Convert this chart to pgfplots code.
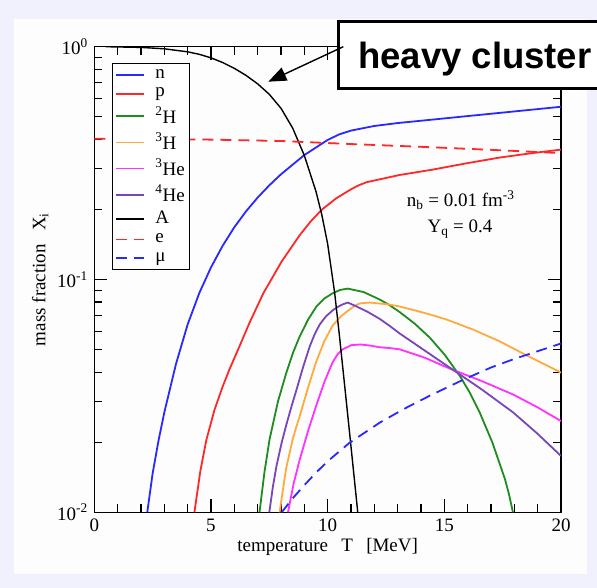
\documentclass[border=0pt]{standalone}
\usepackage{fontspec}
\setmainfont{Liberation Serif}
\newfontfamily\headfont{Liberation Sans}
\usepackage{pgfplots}
\pgfplotsset{compat=1.18}
\usetikzlibrary{arrows.meta}
\definecolor{colneutron}{RGB}{40,40,255}
\definecolor{colproton}{RGB}{255,40,40}
\definecolor{coldeut}{RGB}{30,140,30}
\definecolor{coltrit}{RGB}{255,170,60}
\definecolor{colhethree}{RGB}{255,50,255}
\definecolor{colalpha}{RGB}{120,70,185}
\definecolor{bgout}{RGB}{240,241,252}
\definecolor{bgin}{RGB}{253,253,253}
\begin{document}
\fontsize{19bp}{22bp}\selectfont
\begin{tikzpicture}
\path[use as bounding box] (0,0) rectangle (597bp,588bp);
\fill[bgout] (0,0) rectangle (597bp,588bp);
\fill[bgin] (14bp,14bp) rectangle (587bp,569bp);
\begin{axis}[
  at={(94.3bp,75.7bp)}, anchor=south west,
  width=466.7bp, height=465.6bp, scale only axis,
  xmin=0, xmax=20, ymode=log, ymin=0.01, ymax=1,
  xtick={0,5,10,15,20}, minor x tick num=4,
  ytick={0.01,0.1,1},
  yticklabels={10\textsuperscript{-2},10\textsuperscript{-1},10\textsuperscript{0}},
  minor ytick={0.02,0.03,0.04,0.05,0.06,0.07,0.08,0.09,0.2,0.3,0.4,0.5,0.6,0.7,0.8,0.9},
  /pgf/number format/assume math mode=true,
  major tick length=13bp, minor tick length=8bp,
  tick style={black,line width=1.2bp},
  axis line style={line width=1.4bp},
  tick label style={font=\fontsize{19bp}{22bp}\selectfont},
  label style={font=\fontsize{19bp}{22bp}\selectfont},
  xlabel={temperature\hspace{0.7em}T\hspace{0.7em}[MeV]},
  ylabel={mass fraction\hspace{0.7em}X\textsubscript{i}},
  every axis x label/.style={at={(axis description cs:0.5,-0.075)},anchor=center},
  every axis y label/.style={at={(axis description cs:-0.116,0.5)},anchor=center,rotate=90},
  legend style={at={(axis description cs:0.038,0.965)}, anchor=north west,
    draw=black, line width=1.2bp, fill=white,
    font=\fontsize{19bp}{22bp}\selectfont,
    inner xsep=2bp, inner ysep=2bp, row sep=0bp, column sep=8bp,
    nodes={inner xsep=3bp, inner ysep=3.5bp}},
  legend cell align=left,
  legend image code/.code={\draw[#1,line width=1.8bp] (0bp,0bp) -- (28bp,0bp);},
  every axis plot/.append style={line width=1.8bp, line join=round},
]
\addplot[color=colneutron] coordinates {
(2.27,0.0100)(2.50,0.01469)(2.75,0.02028)(3.00,0.02685)(3.50,0.04335)(4.00,0.06412)(4.50,0.08750)(5.00,0.1127)(5.50,0.1396)(6.00,0.1677)(6.50,0.1961)(7.00,0.2249)(7.50,0.2538)(8.00,0.2831)(9.00,0.3424)(10.00,0.3977)(10.50,0.4203)(11.00,0.4361)(12.00,0.4566)(13.00,0.4699)(14.50,0.4864)(16.00,0.5035)(18.00,0.5272)(20.00,0.5521)};
\addlegendentry{n}
\addplot[color=colproton] coordinates {
(4.29,0.0100)(4.545,0.01503)(4.80,0.02042)(5.15,0.02754)(5.50,0.03467)(5.79,0.04107)(6.08,0.04786)(6.66,0.06546)(7.24,0.08710)(8.02,0.1191)(8.80,0.1549)(9.275,0.1778)(9.75,0.1995)(10.355,0.2228)(10.96,0.2427)(11.315,0.2535)(11.67,0.2618)(13.085,0.2812)(14.50,0.2965)(15.94,0.3155)(17.38,0.3342)(18.69,0.3483)(20.00,0.3614)};
\addlegendentry{p}
\addplot[color=coldeut] coordinates {
(7.08,0.0100)(7.295,0.01496)(7.51,0.02056)(7.87,0.02992)(8.23,0.03981)(8.515,0.04845)(8.80,0.05689)(9.16,0.06724)(9.52,0.07656)(9.86,0.08287)(10.20,0.08710)(10.53,0.09016)(10.86,0.09141)(11.545,0.08831)(12.23,0.08204)(12.66,0.07753)(13.09,0.07244)(13.735,0.06457)(14.38,0.05623)(15.025,0.04738)(15.67,0.03846)(16.095,0.03261)(16.52,0.02679)(17.06,0.01994)(17.60,0.01387)(17.77,0.01197)(17.94,0.0100)};
\addlegendentry{\textsuperscript{2}H}
\addplot[color=coltrit] coordinates {
(7.94,0.0100)(8.22,0.01542)(8.50,0.02056)(8.65,0.02317)(8.80,0.02582)(9.15,0.03407)(9.50,0.04406)(9.85,0.05412)(10.20,0.06310)(10.57,0.06957)(10.94,0.07430)(11.155,0.07698)(11.37,0.07889)(11.80,0.07964)(12.23,0.07889)(12.66,0.07803)(13.09,0.07656)(13.735,0.07371)(14.38,0.07079)(15.10,0.06730)(16.24,0.06091)(17.38,0.05420)(18.53,0.04721)(19.265,0.04335)(20.00,0.03981)};
\addlegendentry{\textsuperscript{3}H}
\addplot[color=colhethree] coordinates {
(8.30,0.0100)(8.55,0.01340)(8.80,0.01679)(9.165,0.02244)(9.53,0.02911)(9.87,0.03652)(10.21,0.04406)(10.425,0.04770)(10.64,0.05012)(11.02,0.05224)(11.40,0.05260)(11.815,0.05203)(12.23,0.05117)(12.66,0.05075)(13.09,0.05012)(14.165,0.04613)(15.24,0.04140)(16.595,0.03666)(17.95,0.03206)(18.975,0.02832)(20.00,0.02466)};
\addlegendentry{\textsuperscript{3}He}
\addplot[color=colalpha] coordinates {
(7.50,0.0100)(7.655,0.01291)(7.81,0.01585)(8.025,0.01984)(8.24,0.02399)(8.455,0.02860)(8.67,0.03373)(8.95,0.04212)(9.23,0.05152)(9.445,0.05827)(9.66,0.06412)(9.935,0.06959)(10.21,0.07362)(10.425,0.07620)(10.64,0.07816)(10.86,0.07962)(11.16,0.07727)(11.695,0.07281)(12.23,0.06776)(12.66,0.06319)(13.09,0.05861)(14.165,0.04949)(15.24,0.04178)(16.595,0.03376)(17.95,0.02685)(18.975,0.02184)(20.00,0.01746)};
\addlegendentry{\textsuperscript{4}He}
\addplot[color=black, line width=1.4bp] coordinates {
(0.50,1.000)(2.00,0.9931)(3.00,0.9795)(4.00,0.9506)(4.50,0.9273)(5.00,0.8957)(5.50,0.8553)(6.00,0.8074)(6.50,0.7534)(7.00,0.6926)(7.50,0.6245)(8.00,0.5439)(8.50,0.4473)(9.00,0.3412)(9.50,0.2388)(9.75,0.1897)(10.00,0.1422)(10.30,0.08770)(10.50,0.05794)(10.75,0.03342)(11.00,0.01919)(11.29,0.0100)};
\addlegendentry{A}
\addplot[color=colproton, dash pattern=on 11bp off 7bp] coordinates {
(0,0.4027)(5,0.3990)(8,0.3936)(11,0.3819)(14,0.3715)(17,0.3606)(20,0.3491)};
\addlegendentry{e}
\addplot[color=colneutron, dash pattern=on 11bp off 7bp] coordinates {
(8.03,0.0100)(8.50,0.01148)(9.00,0.01307)(9.50,0.01480)(10.00,0.01656)(10.94,0.01991)(12.23,0.02427)(13.30,0.02790)(14.38,0.03170)(15.80,0.03707)(17.00,0.04188)(18.00,0.04560)(20.00,0.05309)};
\addlegendentry{μ}
\node[anchor=base] at (axis cs:15.7,0.2056) {n\textsubscript{b} = 0.01 fm\textsuperscript{-3}};
\node[anchor=base] at (axis cs:15.67,0.1592) {Y\textsubscript{q} = 0.4};
\end{axis}
\begin{scope}
\clip (0,0) rectangle (597bp,588bp);
\draw[line width=3.3bp, fill=white] (605bp,566.3bp) -- (338.8bp,566.3bp) -- (338.8bp,499.7bp) -- (605bp,499.7bp);
\end{scope}
\node[anchor=base west, inner sep=0pt, font=\headfont\bfseries\fontsize{36.5bp}{40bp}\selectfont] at (358bp,519.7bp) {heavy cluster};
\draw[line width=1.4bp, -{Triangle[length=18bp,width=14bp]}] (343.3bp,541.3bp) -- (268.3bp,506.3bp);
\end{tikzpicture}
\end{document}
